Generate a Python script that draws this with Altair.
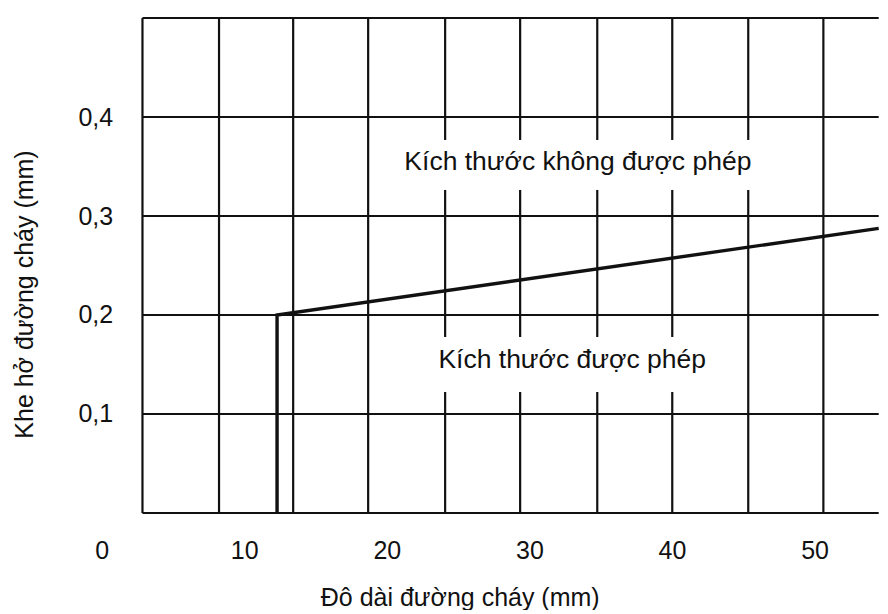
import altair as alt
import pandas as pd

# --- values ---
x_labels = [0, 10, 20, 30, 40, 50]
y_labels = [0.1, 0.2, 0.3, 0.4]

frame_x = [2.86, 54.5]          # left border / right end of the drawn grid
frame_y = [0.0, 0.5]            # bottom / top border

x_grid = [8.23, 13.43, 18.69, 24.09, 29.35, 34.76, 40.02, 45.35, 50.62]
y_grid = [0.1, 0.2, 0.3, 0.4]

upper_gap_lines = [24.09, 29.35, 34.76, 40.02, 45.35]
upper_gap = [0.3263, 0.3768]
lower_gap_lines = [24.09, 29.35, 34.76, 40.02]
lower_gap = [0.1222, 0.1778]

limit_x = [12.3, 12.3, 54.5]
limit_y = [0.0, 0.2, 0.2875]

zone_labels = ["Kích thước không được phép", "Kích thước được phép"]
zone_x = [33.4, 33.0]
zone_y = [0.3545, 0.1545]

# --- build tables ---
vsegs = []
for xv in [frame_x[0]] + x_grid:
    gaps = []
    if xv in upper_gap_lines:
        gaps.append(upper_gap)
    if xv in lower_gap_lines:
        gaps.append(lower_gap)
    gaps.sort()
    start = frame_y[0]
    for g0, g1 in gaps:
        vsegs.append({"x": xv, "y0": start, "y1": g0})
        start = g1
    vsegs.append({"x": xv, "y0": start, "y1": frame_y[1]})
vdf = pd.DataFrame(vsegs)

hdf = pd.DataFrame({"y": [frame_y[0]] + y_grid + [frame_y[1]],
                    "x0": frame_x[0], "x1": frame_x[1]})
ldf = pd.DataFrame({"x": limit_x, "y": limit_y, "i": list(range(len(limit_x)))})
tdf = pd.DataFrame({"label": zone_labels, "x": zone_x, "y": zone_y})

FONT = "Liberation Sans"
INK = "#111111"

xscale = alt.Scale(domain=[0, frame_x[1]], nice=False, zero=False)
yscale = alt.Scale(domain=[0, 0.5], nice=False, zero=False)

xaxis = alt.Axis(values=x_labels, domain=False, ticks=False, tickSize=0, grid=False,
                 labelFontSize=25, labelFont=FONT, labelColor=INK, labelPadding=26,
                 labelFlush=False, labelOverlap=False,
                 title="Đô dài đường cháy (mm)", titleFont=FONT, titleFontSize=25,
                 titleFontWeight="normal", titleColor=INK,
                 titleX=358, titleY=85, titleBaseline="middle")
yaxis = alt.Axis(values=y_labels, domain=False, ticks=False, tickSize=0, grid=False,
                 labelExpr="replace(format(datum.value, '.1f'), '.', ',')",
                 labelFontSize=25, labelFont=FONT, labelColor=INK, labelPadding=0,
                 labelFlush=False, offset=-11,
                 title="Khe hở đường cháy (mm)", titleFont=FONT, titleFontSize=25,
                 titleFontWeight="normal", titleColor=INK,
                 titleX=-88, titleY=276, titleBaseline="middle")

vlines = alt.Chart(vdf).mark_rule(color=INK, strokeWidth=2.2).encode(
    x=alt.X("x:Q", scale=xscale, axis=xaxis),
    y=alt.Y("y0:Q", scale=yscale, axis=yaxis),
    y2="y1:Q",
)
hlines = alt.Chart(hdf).mark_rule(color=INK, strokeWidth=2.2).encode(
    y=alt.Y("y:Q", scale=yscale, axis=yaxis),
    x=alt.X("x0:Q", scale=xscale, axis=xaxis),
    x2="x1:Q",
)
limit = alt.Chart(ldf).mark_line(color=INK, strokeWidth=3.4, strokeJoin="miter").encode(
    x=alt.X("x:Q", scale=xscale, axis=xaxis),
    y=alt.Y("y:Q", scale=yscale, axis=yaxis),
    order="i:O",
)
texts = alt.Chart(tdf).mark_text(font=FONT, fontSize=26.5, color=INK,
                                 align="center", baseline="middle").encode(
    x=alt.X("x:Q", scale=xscale, axis=xaxis),
    y=alt.Y("y:Q", scale=yscale, axis=yaxis),
    text="label:N",
)

chart = alt.layer(vlines, hlines, limit, texts).properties(
    width=777, height=495,
    padding={"left": 93.7, "top": 10, "right": 0, "bottom": 97},
    autosize=alt.AutoSizeParams(type="none"),
    background="white",
).configure_view(stroke=None)

chart.save("out.html", embed_options={"renderer": "svg", "actions": False})
